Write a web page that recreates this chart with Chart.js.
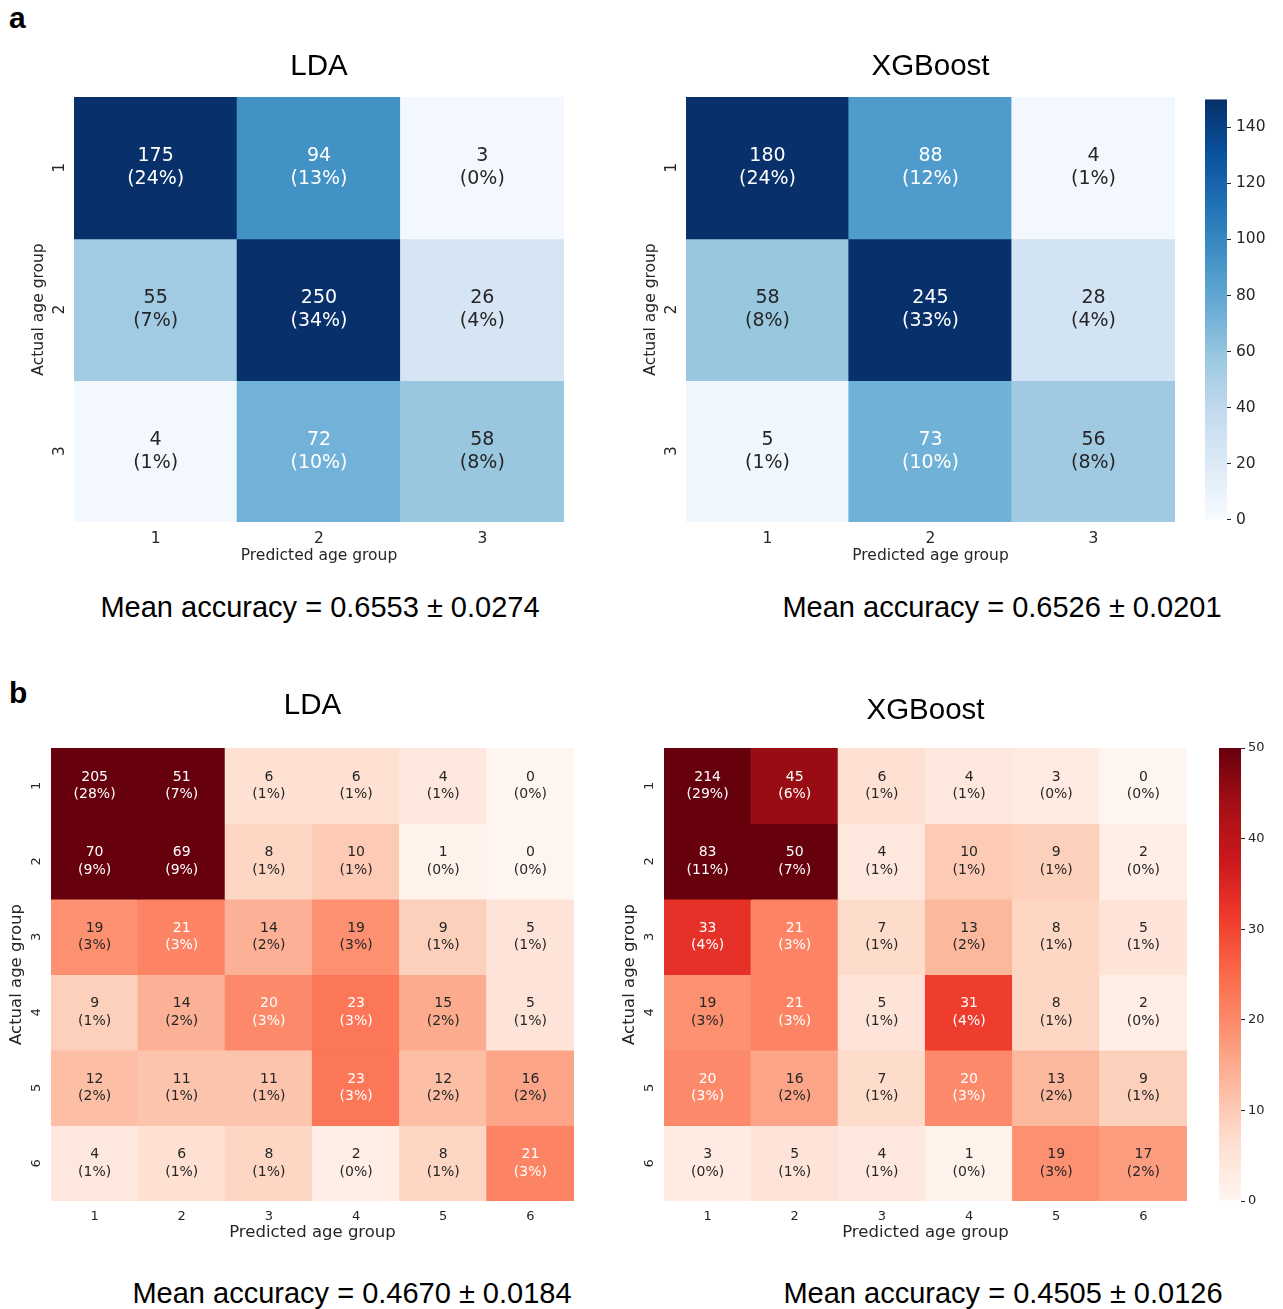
<!DOCTYPE html>
<html>
<head>
<meta charset="utf-8">
<script src="https://cdn.jsdelivr.net/npm/chart.js@4.4.1/dist/chart.umd.min.js"></script>
<style>
  html, body { margin: 0; padding: 0; background: #ffffff; }
  body { width: 1283px; height: 1309px; position: relative; overflow: hidden; }
  .txt { position: absolute; font-family: "Liberation Sans", Arial, sans-serif; color: #000; white-space: nowrap; line-height: 1; }
  .panel { font-size: 30px; font-weight: bold; }
  .acc { font-size: 29px; width: 600px; text-align: center; }
</style>
</head>
<body>
<div class="txt panel" style="left:9px;top:3px;">a</div>
<div class="txt panel" style="left:9px;top:678px;">b</div>
<div class="txt acc" id="accAL" style="left:20px;top:593px;"></div>
<div class="txt acc" id="accAR" style="left:702px;top:593px;"></div>
<div class="txt acc" id="accBL" style="left:52px;top:1279px;"></div>
<div class="txt acc" id="accBR" style="left:703px;top:1279px;"></div>

<script>
// ---- data: confusion matrices (rows = actual group, columns = predicted group) ----
const groups3 = ['1', '2', '3'];
const groups6 = ['1', '2', '3', '4', '5', '6'];

const ldaThree = [
  [175, 94, 3],
  [55, 250, 26],
  [4, 72, 58]
];
const xgbThree = [
  [180, 88, 4],
  [58, 245, 28],
  [5, 73, 56]
];
const ldaSix = [
  [205, 51, 6, 6, 4, 0],
  [70, 69, 8, 10, 1, 0],
  [19, 21, 14, 19, 9, 5],
  [9, 14, 20, 23, 15, 5],
  [12, 11, 11, 23, 12, 16],
  [4, 6, 8, 2, 8, 21]
];
const xgbSix = [
  [214, 45, 6, 4, 3, 0],
  [83, 50, 4, 10, 9, 2],
  [33, 21, 7, 13, 8, 5],
  [19, 21, 5, 31, 8, 2],
  [20, 16, 7, 20, 13, 9],
  [3, 5, 4, 1, 19, 17]
];

// colour scale limits and colourbar ticks
const vmaxThree = 150;
const vmaxSix = 50;
const cbarTicksThree = [0, 20, 40, 60, 80, 100, 120, 140];
const cbarTicksSix = [0, 10, 20, 30, 40, 50];

// cross-validated accuracy (mean ± sd)
const accuracyLabels = ['0.6553 ± 0.0274', '0.6526 ± 0.0201', '0.4670 ± 0.0184', '0.4505 ± 0.0126'];

// ---- colormaps ----
const BLUES = ['#f7fbff', '#deebf7', '#c6dbef', '#9ecae1', '#6baed6', '#4292c6', '#2171b5', '#08519c', '#08306b'];
const REDS  = ['#fff5f0', '#fee0d2', '#fcbba1', '#fc9272', '#fb6a4a', '#ef3b2c', '#cb181d', '#a50f15', '#67000d'];

function hexToRgb(h) { return [1, 3, 5].map(i => parseInt(h.slice(i, i + 2), 16)); }
function cmap(stops, t) {
  t = Math.min(1, Math.max(0, t));
  const s = t * (stops.length - 1);
  const i = Math.min(stops.length - 2, Math.floor(s));
  const f = s - i;
  const a = hexToRgb(stops[i]), b = hexToRgb(stops[i + 1]);
  return a.map((v, k) => Math.round(v + (b[k] - v) * f));
}
function rgbStr(c) { return `rgb(${c[0]},${c[1]},${c[2]})`; }
function luminance(c) {
  const l = c.map(v => { v /= 255; return v <= 0.03928 ? v / 12.92 : Math.pow((v + 0.055) / 1.055, 2.4); });
  return 0.2126 * l[0] + 0.7152 * l[1] + 0.0722 * l[2];
}

Chart.defaults.font.family = '"DejaVu Sans", Verdana, sans-serif';
Chart.defaults.color = '#262626';
Chart.defaults.animation = false;
Chart.defaults.events = [];
Chart.defaults.plugins.legend.display = false;
Chart.defaults.plugins.tooltip.enabled = false;

function makeCanvas(left, top, w, h) {
  const c = document.createElement('canvas');
  c.width = w; c.height = h;
  c.style.cssText = `position:absolute;left:${left}px;top:${top}px;width:${w}px;height:${h}px;`;
  document.body.appendChild(c);
  return c;
}

// Heatmap built from floating bars: one dataset per actual group,
// each bar spans [row - 0.5, row + 0.5] on a reversed linear y scale.
function heatmap(o) {
  const n = o.counts.length;
  const lh = o.titleSize * 1.2;
  const titleTop = o.titleY - lh / 2;
  const cTop = Math.floor(titleTop) - 2;
  const cLeft = o.area.L - o.yW;
  const padR = 6;
  const W = o.area.R + padR - cLeft;
  const H = o.area.B + o.xH - cTop;
  const canvas = makeCanvas(cLeft, cTop, W, H);
  const total = o.counts.flat().reduce((a, b) => a + b, 0);

  const datasets = o.counts.map((row, r) => ({
    data: row.map(() => [r + 0.5, r + 1.5]),
    backgroundColor: row.map(v => rgbStr(cmap(o.stops, v / o.vmax))),
    borderWidth: 0,
    inflateAmount: 0.6,
    barPercentage: 1,
    categoryPercentage: 1
  }));

  const annotate = {
    id: 'cellText',
    afterDatasetsDraw(chart) {
      const ctx = chart.ctx;
      ctx.save();
      ctx.textAlign = 'center';
      ctx.textBaseline = 'middle';
      ctx.font = `${o.annSize}px "DejaVu Sans"`;
      chart.data.datasets.forEach((ds, r) => {
        const meta = chart.getDatasetMeta(r);
        meta.data.forEach((bar, c) => {
          const v = o.counts[r][c];
          const col = cmap(o.stops, v / o.vmax);
          ctx.fillStyle = luminance(col) > 0.408 ? '#262626' : '#ffffff';
          const p = bar.getProps(['x', 'y', 'base'], true);
          const cy = (p.y + p.base) / 2;
          const pct = Math.round(100 * v / total);
          ctx.fillText(String(v), p.x, cy - o.annGap / 2);
          ctx.fillText(`(${pct}%)`, p.x, cy + o.annGap / 2);
        });
      });
      // rotated row labels on the y axis
      const ys = chart.scales.y;
      ctx.fillStyle = '#262626';
      ctx.font = `${o.tickSize}px "DejaVu Sans"`;
      o.labels.forEach((lab, r) => {
        const py = ys.getPixelForValue(r + 1);
        ctx.save();
        ctx.translate(chart.chartArea.left - o.yTickOff, py);
        ctx.rotate(-Math.PI / 2);
        ctx.fillText(lab, 0, 0);
        ctx.restore();
      });
      ctx.restore();
    }
  };

  return new Chart(canvas, {
    type: 'bar',
    data: { labels: o.labels, datasets },
    plugins: [annotate],
    options: {
      responsive: false,
      devicePixelRatio: 1,
      layout: { padding: { top: titleTop - cTop, left: 0, right: padR, bottom: 0 } },
      plugins: {
        title: {
          display: true, text: o.title, fullSize: false, color: '#000',
          font: { family: '"Liberation Sans", Arial, sans-serif', size: o.titleSize, weight: 'normal', lineHeight: 1.2 },
          padding: { top: 0, bottom: o.area.T - o.titleY - lh / 2 }
        }
      },
      scales: {
        x: {
          type: 'category', offset: true, stacked: true,
          grid: { display: false, drawTicks: false, tickLength: 0 }, border: { display: false },
          ticks: { font: { size: o.tickSize }, color: '#262626', padding: o.tickPad, maxRotation: 0, autoSkip: false },
          title: { display: true, text: 'Predicted age group', color: '#262626', font: { size: o.axisSize }, padding: 0 },
          afterFit: s => { s.height = o.xH; }
        },
        y: {
          type: 'linear', min: 0.5, max: n + 0.5, reverse: true, stacked: false,
          grid: { display: false, drawTicks: false }, border: { display: false },
          ticks: { display: false },
          title: { display: true, text: 'Actual age group', color: '#262626', font: { size: o.axisSize }, padding: 0 },
          afterFit: s => { s.width = o.yW; }
        }
      }
    }
  });
}

function colorbar(o) {
  const cLeft = o.area.L - 2, cTop = o.area.T - 12;
  const W = o.area.R - cLeft + o.axisW + 4;
  const H = o.area.B + 12 - cTop;
  const canvas = makeCanvas(cLeft, cTop, W, H);
  return new Chart(canvas, {
    type: 'bar',
    data: {
      labels: [''],
      datasets: [{
        data: [[0, o.vmax]],
        backgroundColor: ctx => {
          const chart = ctx.chart;
          if (!chart.chartArea) return o.stops[0];
          const y = chart.scales.y;
          const g = chart.ctx.createLinearGradient(0, y.getPixelForValue(0), 0, y.getPixelForValue(o.vmax));
          o.stops.forEach((c, i) => g.addColorStop(i / (o.stops.length - 1), c));
          return g;
        },
        borderWidth: 0, inflateAmount: 0, barPercentage: 1, categoryPercentage: 1
      }]
    },
    options: {
      responsive: false,
      devicePixelRatio: 1,
      layout: { padding: { left: 2, top: 12, bottom: 12, right: 4 } },
      scales: {
        x: { display: false, offset: true },
        y: {
          position: 'right', min: 0, max: o.vmax,
          afterBuildTicks: s => { s.ticks = o.ticks.map(v => ({ value: v })); },
          grid: { display: true, drawOnChartArea: false, drawTicks: true, tickLength: o.tickLen, color: '#262626', lineWidth: 1 },
          border: { display: false },
          ticks: { font: { size: o.tickSize }, color: '#262626', padding: o.tickPad },
          afterFit: s => { s.width = o.axisW; }
        }
      }
    }
  });
}

const topStyle = { vmax: vmaxThree, stops: BLUES, titleSize: 29.5, titleY: 66.5, yW: 44, xH: 43,
  tickSize: 15.5, tickPad: 8, axisSize: 15.5, annSize: 19, annGap: 23, yTickOff: 14.5, labels: groups3 };
const botStyle = { vmax: vmaxSix, stops: REDS, titleSize: 29.5, yW: 44, xH: 42,
  tickSize: 13, tickPad: 7.5, axisSize: 16.5, annSize: 14, annGap: 17.5, yTickOff: 14.5, labels: groups6 };

heatmap(Object.assign({}, topStyle, { counts: ldaThree, title: 'LDA', area: { L: 74, T: 97, R: 564, B: 522 } }));
heatmap(Object.assign({}, topStyle, { counts: xgbThree, title: 'XGBoost', area: { L: 686, T: 97, R: 1175, B: 522 } }));
colorbar({ area: { L: 1205, T: 97, R: 1227, B: 522 }, vmax: vmaxThree, stops: BLUES, ticks: cbarTicksThree,
  tickSize: 15.5, tickLen: 4, tickPad: 5, axisW: 50 });

heatmap(Object.assign({}, botStyle, { counts: ldaSix, title: 'LDA', titleY: 706.3, area: { L: 51, T: 748, R: 574, B: 1201 } }));
heatmap(Object.assign({}, botStyle, { counts: xgbSix, title: 'XGBoost', titleY: 711.3, area: { L: 664, T: 748, R: 1187, B: 1201 } }));
colorbar({ area: { L: 1219, T: 748, R: 1241, B: 1201 }, vmax: vmaxSix, stops: REDS, ticks: cbarTicksSix,
  tickSize: 13, tickLen: 4, tickPad: 3, axisW: 36 });

['accAL', 'accAR', 'accBL', 'accBR'].forEach((id, i) => {
  document.getElementById(id).textContent = 'Mean accuracy = ' + accuracyLabels[i];
});
</script>
</body>
</html>
